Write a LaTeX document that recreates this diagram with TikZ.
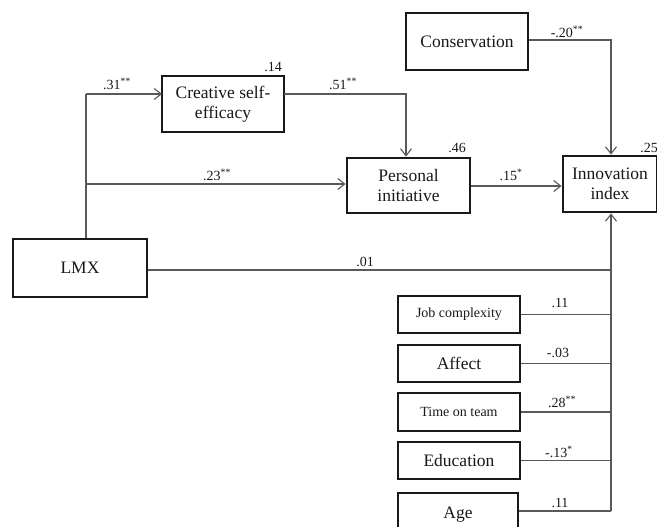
\documentclass[tikz,border=0pt]{standalone}
\usepackage{fontspec}
\setmainfont{Liberation Serif}
\usetikzlibrary{arrows.meta}
\begin{document}
\begin{tikzpicture}[x=1pt,y=-1pt,
  box/.style={draw=black!90, line width=2.8pt, fill=white, align=center,
    inner sep=0pt, text=black!90, font=\fontsize{17.5}{20}\selectfont},
  smallbox/.style={box, font=\fontsize{14}{16}\selectfont},
  link/.style={draw=black!65, line width=1.1pt},
  arr/.style={link, -{Straight Barb[length=7pt,width=11pt,line width=1.1pt]}},
  coef/.style={font=\fontsize{14}{16}\selectfont, text=black!90, inner sep=0pt},
  rsq/.style={font=\fontsize{14}{16}\selectfont, text=black!90, inner sep=0pt}]
\useasboundingbox (0,0) rectangle (657,527);
\begin{scope}
\clip (0,0) rectangle (657,527);

% main constructs
\node[box, minimum width=122pt, minimum height=56pt] (cse) at (223,104) {Creative self-\\efficacy};
\node[box, minimum width=122pt, minimum height=57pt] (cons) at (467,41.5) {Conservation};
\node[box, minimum width=123pt, minimum height=55pt] (pi) at (408.5,185.5) {Personal\\initiative};
\node[box, minimum width=94pt, minimum height=56pt] (inn) at (610,184) {Innovation\\index};
\node[box, minimum width=134pt, minimum height=58pt] (lmx) at (80,268) {LMX};

% control variables
\node[smallbox, minimum width=122pt, minimum height=37pt] (jc) at (459,314.5) {Job complexity};
\node[box, minimum width=122pt, minimum height=37pt] (aff) at (459,363.5) {Affect};
\node[smallbox, minimum width=122pt, minimum height=38pt] (tot) at (459,412) {Time on team};
\node[box, minimum width=122pt, minimum height=37pt] (edu) at (459,460.5) {Education};
\node[box, minimum width=120pt, minimum height=44pt] (age) at (458,515) {Age};

% R-squared values
\node[rsq] (r14) at (273,67) {.14};
\node[rsq] (r46) at (457,148) {.46};
\node[rsq] (r25) at (649,148) {.25};

% routing points
\coordinate (trunk) at (86,94);
\coordinate (mid) at (86,184);
\coordinate (spine) at (611,511);
\coordinate (csein) at (162,94);
\coordinate (cseout) at (284,94);
\coordinate (bend) at (406,94);
\coordinate (consbend) at (611,40);

% paths from LMX
\draw[link] (lmx.north -| trunk) -- (trunk);
\draw[arr] (trunk) -- (csein);
\draw[arr] (mid) -- (mid -| pi.west);
\draw[link] (lmx.east |- 0,270) -- (spine |- 0,270);

% mediation paths
\draw[arr] (cseout) -- (bend) -- (bend |- pi.north);
\draw[arr] (pi.east |- 0,186) -- (inn.west |- 0,186);
\draw[arr] (cons.east |- consbend) -- (consbend) -- (consbend |- inn.north);

% control paths onto the spine
\draw[link] (jc.east) -- (jc.east -| spine);
\draw[link] (aff.east) -- (aff.east -| spine);
\draw[link] (tot.east) -- (tot.east -| spine);
\draw[link] (edu.east) -- (edu.east -| spine);
\draw[link] (age.east |- spine) -- (spine);
\draw[arr] (spine) -- (spine |- inn.south);

% path coefficients
\node[coef] (c31) at (117,84) {.31\textsuperscript{**}};
\node[coef] (c23) at (217,175) {.23\textsuperscript{**}};
\node[coef] (c51) at (343,84) {.51\textsuperscript{**}};
\node[coef] (c20) at (567,32) {-.20\textsuperscript{**}};
\node[coef] (c15) at (511,175) {.15\textsuperscript{*}};
\node[coef] (c01) at (365,262) {.01};
\node[coef] (cjc) at (560,303) {.11};
\node[coef] (caf) at (558,353) {-.03};
\node[coef] (ctt) at (562,402) {.28\textsuperscript{**}};
\node[coef] (ced) at (559,452) {-.13\textsuperscript{*}};
\node[coef] (cag) at (560,503) {.11};
\end{scope}
\end{tikzpicture}
\end{document}
